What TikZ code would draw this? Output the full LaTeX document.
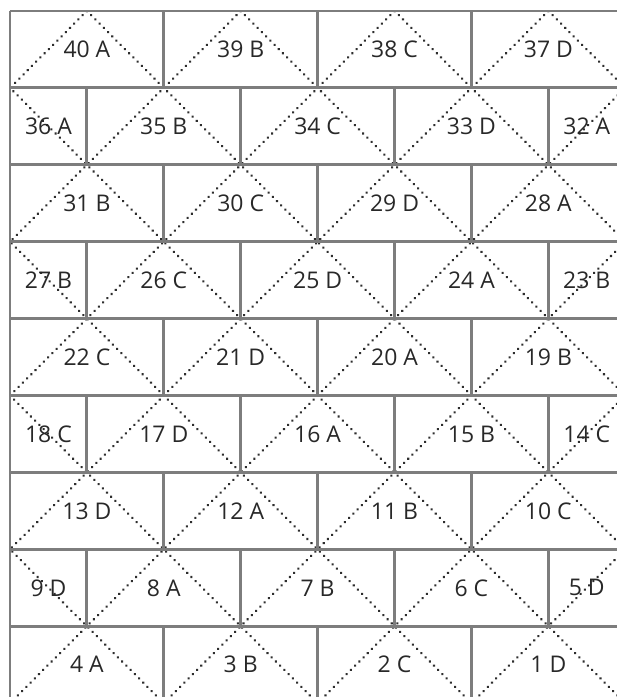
\documentclass[tikz,border=0pt]{standalone}
\usepackage{fontspec}
\setmainfont{Open Sans}
\definecolor{gridgray}{RGB}{125,125,125}
\definecolor{dotgray}{RGB}{45,45,45}
\definecolor{labelgray}{RGB}{40,40,40}
\usetikzlibrary{positioning}
\tikzset{
  brickline/.style={gridgray, line width=1.1pt},
  diagline/.style={dotgray, line width=1.05pt, line cap=round, dash pattern=on 0.01pt off 2.2pt},
  tilelabel/.style={labelgray, inner sep=0pt, font=\fontsize{8.5}{10}\selectfont}
}
\begin{document}
\begin{tikzpicture}[x=1cm, y=-1cm]
      % Page frame (the bottom row and right column run off the page)
      \useasboundingbox (-0.130,-0.143) rectangle (7.880,8.920);
      % Dotted diagonals through the brick corners
      \begin{scope}
        \clip (0,0) rectangle (8,9);
        \foreach \k in {-9,-7,...,17} {
          \draw[diagline] (\k,0) -- ++(9,9);
          \draw[diagline] (\k,0) -- ++(-9,9);
        }
      \end{scope}
      % Brick courses
      \foreach \r in {0,...,9}
        \draw[brickline] (0,\r) -- (8.2,\r);
      \draw[brickline] (0,0) -- (0,9.2);
      \foreach \r in {0,2,...,8}
        \foreach \c in {2,4,6,8}
          \draw[brickline] (\c,\r) -- ++(0,1);
      \foreach \r in {1,3,...,7}
        \foreach \c in {1,3,5,7}
          \draw[brickline] (\c,\r) -- ++(0,1);
      % Tile numbers, even courses
      \foreach \n/\l/\x/\y in {40/A/1/0.5, 39/B/3/0.5, 38/C/5/0.5, 37/D/7/0.5,
          31/B/1/2.5, 30/C/3/2.5, 29/D/5/2.5, 28/A/7/2.5,
          22/C/1/4.5, 21/D/3/4.5, 20/A/5/4.5, 19/B/7/4.5,
          13/D/1/6.5, 12/A/3/6.5, 11/B/5/6.5, 10/C/7/6.5,
          4/A/1/8.5, 3/B/3/8.5, 2/C/5/8.5, 1/D/7/8.5}
        \node[tilelabel] (t\n) at (\x,\y) {\n\ \l};
      % Tile numbers, odd courses (half bricks at both ends)
      \foreach \n/\l/\x/\y in {36/A/0.5/1.5, 35/B/2/1.5, 34/C/4/1.5, 33/D/6/1.5, 32/A/7.5/1.5,
          27/B/0.5/3.5, 26/C/2/3.5, 25/D/4/3.5, 24/A/6/3.5, 23/B/7.5/3.5,
          18/C/0.5/5.5, 17/D/2/5.5, 16/A/4/5.5, 15/B/6/5.5, 14/C/7.5/5.5,
          9/D/0.5/7.5, 8/A/2/7.5, 7/B/4/7.5, 6/C/6/7.5, 5/D/7.5/7.5}
        \node[tilelabel] (t\n) at (\x,\y) {\n\ \l};
    \end{tikzpicture}
\end{document}
